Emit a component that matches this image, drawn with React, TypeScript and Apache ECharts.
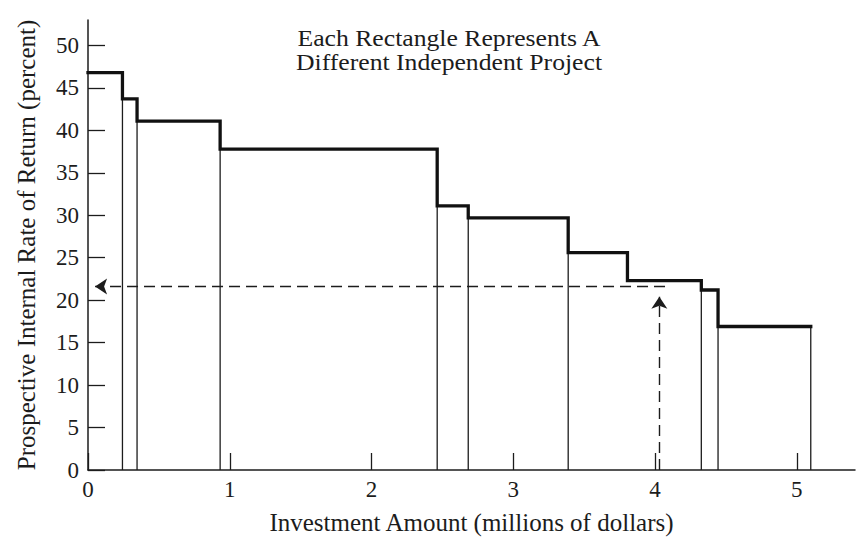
import React, { useEffect, useRef } from "react";
import * as echarts from "echarts";

// Boundaries of the projects along the investment axis (millions of dollars)
const projectEdges = [0, 0.243, 0.346, 0.932, 2.463, 2.682, 3.387, 3.805, 4.326, 4.444, 5.098];
// Prospective internal rate of return of each project (percent)
const projectIRR = [46.8, 43.7, 41.1, 37.8, 31.1, 29.7, 25.6, 22.3, 21.2, 16.9];
// Which project edges carry a thin vertical divider line
const dividerEdgeIndex = [1, 2, 3, 4, 5, 6, 8, 9, 10];

const xTicks = [0, 1, 2, 3, 4, 5];
const yTicks = [0, 5, 10, 15, 20, 25, 30, 35, 40, 45, 50];

// Cut-off arrows
const cutoffInvestment = 4.03;
const cutoffRate = 21.6;
const cutoffLineEnd = 4.07;
const cutoffArrowTip = 20.4;
const rateArrowTip = 0.05;

const titleLines = ["Each Rectangle Represents A", "Different Independent Project"];
const xName = "Investment Amount (millions of dollars)";
const yName = "Prospective Internal Rate of Return (percent)";

const FONT = "'Liberation Serif', 'Times New Roman', serif";
const INK = "#1c1c1c";

export default function App() {
  const ref = useRef<HTMLDivElement>(null);

  useEffect(() => {
    if (!ref.current) return;
    const chart = echarts.init(ref.current, undefined, { renderer: "svg" });

    const stepData: number[][] = [];
    for (let i = 0; i < projectIRR.length; i++) {
      stepData.push([projectEdges[i], projectIRR[i]]);
      stepData.push([projectEdges[i + 1], projectIRR[i]]);
    }
    const dividerData = dividerEdgeIndex.map((idx) => [
      projectEdges[idx],
      projectIRR[Math.min(idx, projectIRR.length - 1)],
    ]);

    chart.setOption({
      animation: false,
      backgroundColor: "#ffffff",
      grid: { left: 88, right: 2, top: 20, bottom: 68, containLabel: false },
      graphic: titleLines.map((line, i) => ({
        type: "text",
        x: 449,
        y: 26 + i * 24,
        scaleX: 1.07,
        style: {
          text: line,
          fontFamily: FONT,
          fontSize: 24,
          lineHeight: 24,
          fill: INK,
          textAlign: "center",
          textVerticalAlign: "top",
        },
      })),
      xAxis: {
        type: "value",
        min: 0,
        max: 5.41,
        interval: 1,
        name: xName,
        nameLocation: "middle",
        nameGap: 40,
        nameTextStyle: { fontFamily: FONT, fontSize: 25, color: INK },
        axisLine: { show: true, lineStyle: { color: INK, width: 1.5 } },
        axisTick: {
          show: true,
          inside: true,
          length: 17,
          customValues: xTicks,
          lineStyle: { color: INK, width: 1.3 },
        },
        axisLabel: {
          customValues: xTicks,
          fontFamily: FONT,
          fontSize: 23,
          color: INK,
          margin: 8,
        },
        splitLine: { show: false },
      },
      yAxis: {
        type: "value",
        min: 0,
        max: 53,
        interval: 5,
        name: yName,
        nameLocation: "middle",
        nameGap: 49,
        nameTextStyle: { fontFamily: FONT, fontSize: 25, color: INK },
        axisLine: { show: true, lineStyle: { color: INK, width: 1.5 } },
        axisTick: {
          show: true,
          inside: true,
          length: 17,
          customValues: yTicks,
          lineStyle: { color: INK, width: 1.3 },
        },
        axisLabel: {
          customValues: yTicks,
          fontFamily: FONT,
          fontSize: 23,
          color: INK,
          margin: 9,
        },
        splitLine: { show: false },
      },
      series: [
        {
          type: "custom",
          silent: true,
          data: dividerData,
          renderItem: (params: any, api: any) => {
            const x = api.value(0);
            const h = api.value(1);
            const p0 = api.coord([x, 0]);
            const p1 = api.coord([x, h]);
            return {
              type: "line",
              shape: { x1: p0[0], y1: p0[1], x2: p1[0], y2: p1[1] },
              style: { stroke: INK, lineWidth: 1.3 },
            };
          },
        },
        {
          type: "line",
          data: stepData,
          symbol: "none",
          silent: true,
          lineStyle: { color: "#111", width: 3.3, join: "miter", cap: "square" },
          markLine: {
            silent: true,
            symbol: ["none", "arrow"],
            symbolSize: 12,
            label: { show: false },
            lineStyle: { type: [11, 6], color: INK, width: 1.4 },
            data: [
              [{ coord: [cutoffLineEnd, cutoffRate] }, { coord: [rateArrowTip, cutoffRate] }],
              [{ coord: [cutoffInvestment, 0] }, { coord: [cutoffInvestment, cutoffArrowTip] }],
            ],
          },
        },
      ],
    });

    return () => chart.dispose();
  }, []);

  return (
    <div
      ref={ref}
      style={{ position: "fixed", left: 0, top: 0, width: 857, height: 540, background: "#fff" }}
    />
  );
}
